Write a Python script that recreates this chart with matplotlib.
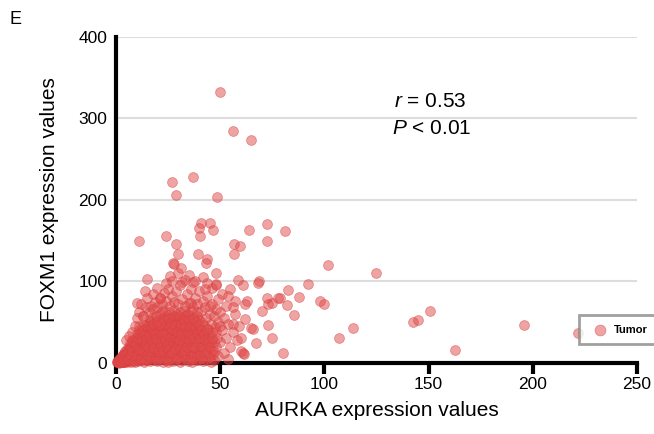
import matplotlib.pyplot as plt

plt.rcParams['font.family'] = ['Liberation Sans', 'DejaVu Sans']
plt.rcParams['mathtext.fontset'] = 'custom'
plt.rcParams['mathtext.rm'] = 'Liberation Sans'
plt.rcParams['mathtext.it'] = 'Liberation Sans:italic'

# dense core of the cloud (AURKA, FOXM1)
core = [
    (0.5,1),(1,2),(1.2,0.5),(1.5,4),(2,1),(2,6),(2.5,3),(2.8,8),(3,0.5),(3,5),(3.3,10),(3.5,2),
    (3.8,7),(4,12),(4,0.8),(4.2,4),(4.5,9),(4.6,14),(4.8,2),(5,6),(1.8,2.5),(2.2,4.5),(3.6,3.5),
    (4.4,6.5),(0.8,0.5),(1.4,1.2),(2.6,1.5),(3.9,1.3),
    (5.2,11),(5.5,1),(5.5,17),(5.8,4),(6,8),(6,13),(6.3,20),(6.5,2),(6.7,10),(7,15),(7,24),(7.2,5),
    (7.5,1.5),(7.5,19),(7.8,8),(8,12),(8,28),(8.2,3),(8.4,22),(8.6,16),(8.8,6),(9,10),(9,26),(9.2,1),
    (9.4,19),(9.5,31),(9.7,13),(9.8,4),(10,23),(10,8),(6.2,16),(7.3,11),(8.1,18),(5.6,7),(6.9,3),
    (9.1,15),(8.5,9),(7.7,27),
    (10.3,35),(10.5,2),(10.6,15),(10.8,28),(11,6),(11,20),(11.2,40),(11.5,11),(11.7,32),(12,3),(12,25),
    (12.2,17),(12.4,44),(12.6,8),(12.8,36),(13,13),(13,29),(13.3,22),(13.5,1.5),(13.5,40),(13.7,6),
    (14,18),(14,33),(14.2,47),(14.4,11),(14.6,26),(14.8,3),(15,38),(15,15),(10.7,22),(11.4,26),
    (12.1,31),(13.1,9),(13.9,24),(14.7,42),(11.8,4),(12.9,19),(10.2,12),(11.1,45),(14.3,8),
    (15.3,21),(15.5,5),(15.6,30),(15.8,48),(16,11),(16,40),(16.3,25),(16.5,2),(16.6,52),(16.8,17),
    (17,34),(17.2,8),(17.4,44),(17.6,28),(17.8,13),(18,56),(18,22),(18.2,38),(18.4,4),(18.6,31),
    (18.8,47),(19,15),(19,26),(19.3,9),(19.5,42),(19.7,35),(19.9,19),(20,53),(20,3),(15.4,35),
    (16.2,45),(17.1,50),(18.3,10),(19.2,58),(17.7,20),(16.9,37),(15.9,26),(18.9,40),(19.6,12),(20.1,30),
    (20.5,45),(20.8,12),(21,25),(21,60),(21.3,36),(21.5,5),(21.8,50),(22,18),(22,31),(22.3,42),(22.5,8),
    (22.7,55),(23,22),(23,64),(23.3,35),(23.6,14),(23.8,47),(24,3),(24,28),(24.3,58),(24.5,40),
    (24.8,19),(25,10),(25,52),(25.3,33),(25.6,62),(25.8,24),(26,44),(26.2,6),(26.5,15),(26.7,37),
    (27,56),(27,28),(27.3,48),(27.5,2),(27.8,20),(28,65),(28,40),(28.3,11),(28.5,32),(28.8,52),(29,25),
    (29.2,60),(29.5,16),(29.8,44),(30,7),(30,36),(21.6,28),(22.9,38),(24.1,48),(25.4,4),(26.4,54),
    (27.6,34),(28.9,6),(23.4,20),(26.9,22),(29.4,55),(20.7,20),(22.1,63),(25.9,30),
    (30.3,50),(30.5,22),(30.8,62),(31,13),(31,40),(31.3,30),(31.6,4),(31.8,55),(32,18),(32.2,46),
    (32.5,34),(32.8,64),(33,9),(33,26),(33.4,52),(33.6,40),(33.9,15),(34,60),(34.2,31),(34.5,2),
    (34.8,45),(35,21),(35,57),(35.3,36),(35.6,11),(35.9,50),(36,27),(36.3,63),(36.5,42),(36.8,6),
    (37,33),(37.2,18),(37.5,55),(37.8,47),(38,25),(38.2,38),(38.5,12),(38.8,58),(39,30),(39.2,44),
    (39.5,4),(39.8,20),(40,52),(40,35),(30.6,44),(32.4,8),(34.4,24),(36.1,48),(38.4,3),(31.9,28),
    (33.7,58),(35.4,16),(37.4,40),(39.4,14),(32.9,36),
    (40.5,15),(40.8,42),(41,27),(41.3,6),(41.5,50),(41.8,33),(42,19),(42.3,46),(42.5,10),(42.8,38),
    (43,24),(43.3,55),(43.5,3),(43.8,30),(44,14),(44.3,41),(44.6,21),(45,34),(45.2,7),(45.5,48),
    (45.8,27),(46,16),(46.4,38),(46.8,11),(47,25),(47.5,44),(48,20),(48.5,31),(49,8),(47.2,3),
]

# more samples filling the same core
core2 = [
    (1,3),(1.6,0.3),(2.3,2),(2.9,6.5),(3.4,1),(3.7,9),(4.1,3),(4.7,11),(5.3,3),(5.9,14),(6.1,5),
    (6.6,18),(6.8,7),(7.1,21),(7.4,9),(7.9,14),(8.3,25),(8.7,2),(9.3,8),(9.6,22),(10.1,17),(10.4,30),
    (10.9,10),(11.3,37),(11.6,16),(12.3,6),(12.5,28),(12.7,39),(13.2,15),(13.4,34),(13.8,21),(14.1,4),
    (14.5,29),(14.9,45),(15.2,10),(15.7,19),(16.1,33),(16.4,7),(16.7,28),(17.3,41),(17.5,14),(17.9,25),
    (18.1,48),(18.5,18),(18.7,35),(19.1,6),(19.4,29),(19.8,50),(20.3,15),(20.6,38),(21.2,9),(21.4,47),
    (21.9,22),(22.4,35),(22.8,14),(23.2,52),(23.5,28),(23.9,6),(24.2,37),(24.6,22),(24.9,55),(25.2,16),
    (25.5,44),(25.7,8),(26.1,32),(26.6,49),(26.8,12),(27.2,40),(27.4,25),(27.9,58),(28.2,17),(28.4,46),
    (28.7,30),(29.1,3),(29.3,38),(29.7,22),(30.2,58),(30.4,28),(30.9,17),(31.2,48),(31.5,35),(31.7,9),
    (32.1,24),(32.6,52),(32.7,14),(33.2,44),(33.5,30),(33.8,5),(34.1,20),(34.6,38),(34.9,53),(35.2,28),
    (35.7,44),(35.8,4),(36.2,35),(36.6,20),(36.9,55),(37.3,10),(37.6,30),(37.9,43),(38.1,18),(38.6,50),
    (38.9,8),(39.1,37),(39.6,26),(39.9,46),(40.2,10),(40.6,30),(41.1,40),(41.6,20),(42.1,35),(42.6,28),
    (43.1,12),(43.6,42),(44.1,25),(44.8,8),(45.3,20),(46.2,30),(47.1,14),(48.2,38),(19.6,2),(22.6,1.5),
    (25.1,1),(30.7,1.5),(36.4,1),(41.9,2),(45.9,1.5),
]

# looser halo around the core
halo = [
    (5,28),(6.5,33),(8,38),(9,45),(10,55),(11,62),(13,58),(14.5,68),(12,72),(16,62),(17,70),(18,66),
    (19,75),(20,68),(21,80),(22,72),(23,86),(24,76),(25,90),(26,70),(27,82),(28,75),(29,88),(30,72),
    (31,95),(32,78),(33,70),(34,85),(35,74),(36,90),(37,68),(38,80),(39,72),(40,88),(41,64),(42,76),
    (43,68),(44,82),(45,60),(46,72),(47,58),(48,66),(49,50),(50,62),(51,40),(52,55),(53,30),(54,48),
    (55,20),(56,38),(57,60),(58,28),(59,45),(60,15),(50,25),(52,12),(54,5),(49,78),(51,85),(53,70),
    (55,90),(57,76),(46,92),(44,98),(42,105),(38,100),(35,108),(33,102),(30,110),(26,106),(24,98),
    (20,92),(18,85),(15,80),(48,95),(56,68),(50,45),(45,70),(39,62),(36,74),(43,90),
    (10,74),(14,88),(13,58),(21,80),(15,103),(27,101),(32,99),(37,99),(48,110),(48,97),(54,82),
    (56,48),(60,31),(61,12),(62,54),(62,72),(63,76),(65,43),(66,42),(67.5,24),(70,64),
]

# sparse points away from the cloud
spread = [
    (50,332),(56,284),(65,273),(27,222),(37,228),(29,206),(48.5,204),
    (41,172),(45,172),(40,165),(46.5,163),(40.5,156),(11,150),(24,156),(29,146),(30,134),
    (27.5,122),(39.5,133),(44,127),(43.5,122),(64,163),(72.5,170),(81,162),(72.5,149),
    (56.5,146),(59.5,143),(56.5,134),(31.5,116),(28,121),(102,120),(58.5,102),(68.6,100),
    (92,97),(61,95),(68,98),(72.5,80),(75,74),(79,80),(82.5,89),(88,81),(98,76),(100,72),
    (85.5,59),(73,47),(75,31),(80,12),(107,30),(61.5,11),(82,71),(73,72),(78,80),
    (125,110),(114,43),(142.5,50),(145,53),(150.7,63),(162.7,16),(196,47),(221.7,36),
]

pts = core + core2 + halo + spread
aurka = [p[0] for p in pts]
foxm1 = [p[1] for p in pts]

fig = plt.figure(figsize=(6.54, 4.34), dpi=100)
ax = fig.add_axes([0.177, 0.164, 0.797, 0.751])

ax.scatter(aurka, foxm1, s=50, color='#e04a4a', alpha=0.5, edgecolor='#d84040',
           linewidth=0.6, label='Tumor', zorder=3, clip_on=False)

ax.set_xlim(0, 250)
ax.set_ylim(0, 400)
ax.set_xticks([0, 50, 100, 150, 200, 250])
ax.set_yticks([0, 100, 200, 300, 400])
ax.yaxis.grid(True, color='#dddddd', linewidth=1.5, zorder=0)
ax.set_axisbelow(True)

for s in ['top', 'right']:
    ax.spines[s].set_visible(False)
for s in ['left', 'bottom']:
    ax.spines[s].set_linewidth(3)
ax.tick_params(axis='x', length=8, width=3, labelsize=12.5, pad=2)
ax.tick_params(axis='y', length=0, labelsize=12.5, pad=6)

ax.set_xlabel('AURKA expression values', fontsize=15, labelpad=7)
ax.set_ylabel('FOXM1 expression values', fontsize=15, labelpad=14)

ax.text(133.5, 321, '$r$ = 0.53', fontsize=15, va='center', ha='left')
ax.text(132.5, 288, '$P$ < 0.01', fontsize=15, va='center', ha='left')

fig.text(0.014, 0.955, 'E', fontsize=13, va='center')

leg = ax.legend(loc='upper left', bbox_to_anchor=(0.877, 0.286),
                bbox_transform=fig.transFigure, fancybox=False, frameon=True,
                prop={'size': 8, 'weight': 'bold'}, handletextpad=0.3,
                borderpad=0.85, markerscale=1.1)
leg.get_frame().set_edgecolor('#888888')
leg.get_frame().set_linewidth(2)

fig.savefig('out.png', dpi=100)
